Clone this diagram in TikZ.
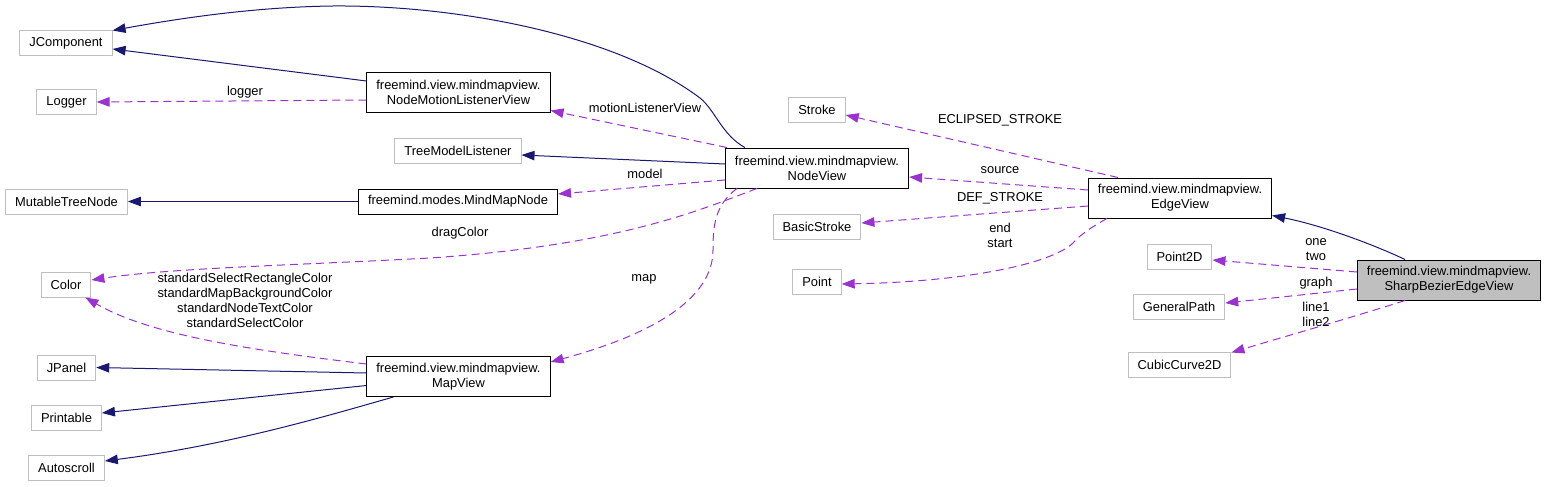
\documentclass[tikz,border=0pt]{standalone}
\usepackage{fontspec}
\setmainfont{Liberation Sans}
\usetikzlibrary{arrows.meta}
\definecolor{inhblue}{HTML}{191970}
\definecolor{usepurple}{HTML}{9A32CD}
\definecolor{boxgray}{HTML}{BFBFBF}

\begin{document}
\begin{tikzpicture}[x=1pt, y=-1pt, font={\fontsize{12.9}{15}\selectfont}, >={Triangle[length=13pt,width=9.5pt]},
  cls/.style={draw=black, fill=white, line width=1pt, inner xsep=9.5pt, inner ysep=1pt, minimum height=40pt, align=center},
  ext/.style={draw=boxgray, fill=white, line width=1pt, inner xsep=9.5pt, inner ysep=1pt, minimum height=25pt},
  inh/.style={->, color=inhblue, line width=1pt},
  use/.style={->, color=usepurple, line width=1pt, dash pattern=on 8pt off 5pt},
  lbl/.style={align=center, inner sep=0pt}]
  \useasboundingbox (0,0) rectangle (1547,487);

  % left column
  \node[ext] (jcomp) at (66,43.5) {JComponent};
  \node[ext] (logger) at (66.5,102) {Logger};
  \node[ext] (mtnode) at (66.5,201.5) {MutableTreeNode};
  \node[ext] (color) at (66,284.5) {Color};
  \node[ext] (jpanel) at (66.5,367.5) {JPanel};
  \node[ext] (printable) at (66.5,418) {Printable};
  \node[ext] (autoscroll) at (66.5,468) {Autoscroll};
  % middle
  \node[cls] (nmlview) at (458.5,92.5) {freemind.view.mindmapview.\\NodeMotionListenerView};
  \node[ext] (tmlistener) at (458,151) {TreeModelListener};
  \node[cls, minimum height=25pt] (mmnode) at (458,201.5) {freemind.modes.MindMapNode};
  \node[cls] (mapview) at (458.5,376.5) {freemind.view.mindmapview.\\MapView};
  \node[cls] (nodeview) at (817,168) {freemind.view.mindmapview.\\NodeView};
  \node[ext] (stroke) at (817,110) {Stroke};
  \node[ext] (bstroke) at (817,227) {BasicStroke};
  \node[ext] (point) at (817,282) {Point};
  % right
  \node[cls] (edgeview) at (1180,198) {freemind.view.mindmapview.\\EdgeView};
  \node[ext] (point2d) at (1179.5,256.5) {Point2D};
  \node[ext] (gpath) at (1179,306.5) {GeneralPath};
  \node[ext] (cubic) at (1179.5,364.5) {CubicCurve2D};
  \node[cls, fill=boxgray] (sbview) at (1449,280) {freemind.view.mindmapview.\\SharpBezierEdgeView};

  % inheritance
  \draw[inh] ([xshift=20pt]nodeview.north west) .. controls (722,135) and (715,110) .. (700,98)
    .. controls (612,32) and (450,5) .. (333,6) .. controls (250,7) and (170,20) .. (jcomp.north east);
  \draw[inh] ([yshift=11.5pt]nmlview.west) -- ([yshift=-5.5pt]jcomp.east);
  \draw[inh] ([yshift=4pt]nodeview.west) -- ([yshift=-4pt]tmlistener.east);
  \draw[inh] (mmnode.west) -- (mtnode.east);
  \draw[inh] ([yshift=3.5pt]mapview.west) -- (jpanel.east);
  \draw[inh] ([yshift=-9pt]mapview.west) -- ([yshift=5pt]printable.east);
  \draw[inh] ([xshift=27pt]mapview.south west) .. controls (330,415) and (230,445) .. ([yshift=7pt]autoscroll.east);
  \draw[inh] ([xshift=-44pt]sbview.north) .. controls (1370,243) and (1320,225) .. ([yshift=3pt]edgeview.south east);

  % usage
  \draw[use] ([yshift=-7.5pt]nmlview.west) -- (logger.east);
  \node[lbl] (llogger) at (245,92) {logger};
  \draw[use] ([xshift=2pt]nodeview.north west) -- ([yshift=2.5pt]nmlview.south east);
  \node[lbl] (lmotion) at (645,108) {motionListenerView};
  \draw[use] ([yshift=-12pt]nodeview.west) -- ([yshift=7.5pt]mmnode.east);
  \node[lbl] (lmodel) at (645,174) {model};
  \draw[use] ([xshift=32pt]nodeview.south west) .. controls (700,210) and (620,245) .. (430,258)
    .. controls (300,265) and (170,268) .. ([yshift=4.5pt]color.east);
  \node[lbl] (ldrag) at (460,233) {dragColor};
  \draw[use] ([xshift=12pt]nodeview.south west) .. controls (715,205) and (713,225) .. (713,250)
    .. controls (713,300) and (650,335) .. ([yshift=-6pt]mapview.north east);
  \node[lbl] (lmap) at (644,279) {map};
  \draw[use] ([yshift=12.5pt]mapview.west) .. controls (250,350) and (150,335) .. ([xshift=-6pt]color.south east);
  \node[lbl] (lcolors) at (245,300) {standardSelectRectangleColor\\standardMapBackgroundColor\\standardNodeTextColor\\standardSelectColor};
  \draw[use] ([xshift=-62pt]edgeview.north) -- ([yshift=-5pt]stroke.east);
  \node[lbl] (leclipsed) at (1000,120) {ECLIPSED\_STROKE};
  \draw[use] ([yshift=8pt]edgeview.west) -- ([yshift=-9pt]nodeview.east);
  \node[lbl] (lsource) at (1000,170) {source};
  \draw[use] ([yshift=-8pt]edgeview.west) -- ([yshift=4pt]bstroke.east);
  \node[lbl] (ldef) at (1000,198) {DEF\_STROKE};
  \draw[use] ([xshift=19pt]edgeview.south west) .. controls (1090,228) and (1080,235) .. (1073,243)
    .. controls (1050,265) and (960,282) .. ([yshift=-2pt]point.east);
  \node[lbl] (lendstart) at (1000,235.5) {end\\start};
  \draw[use] ([yshift=8pt]sbview.west) -- ([yshift=-3.5pt]point2d.east);
  \node[lbl] (lonetwo) at (1316,249.5) {one\\two};
  \draw[use] ([yshift=-9pt]sbview.west) -- ([yshift=3.5pt]gpath.east);
  \node[lbl] (lgraph) at (1316,283) {graph};
  \draw[use] ([xshift=-44pt]sbview.south) .. controls (1360,315) and (1290,335) .. ([yshift=-1pt]cubic.north east);
  \node[lbl] (llines) at (1316,314.5) {line1\\line2};
\end{tikzpicture}
\end{document}
